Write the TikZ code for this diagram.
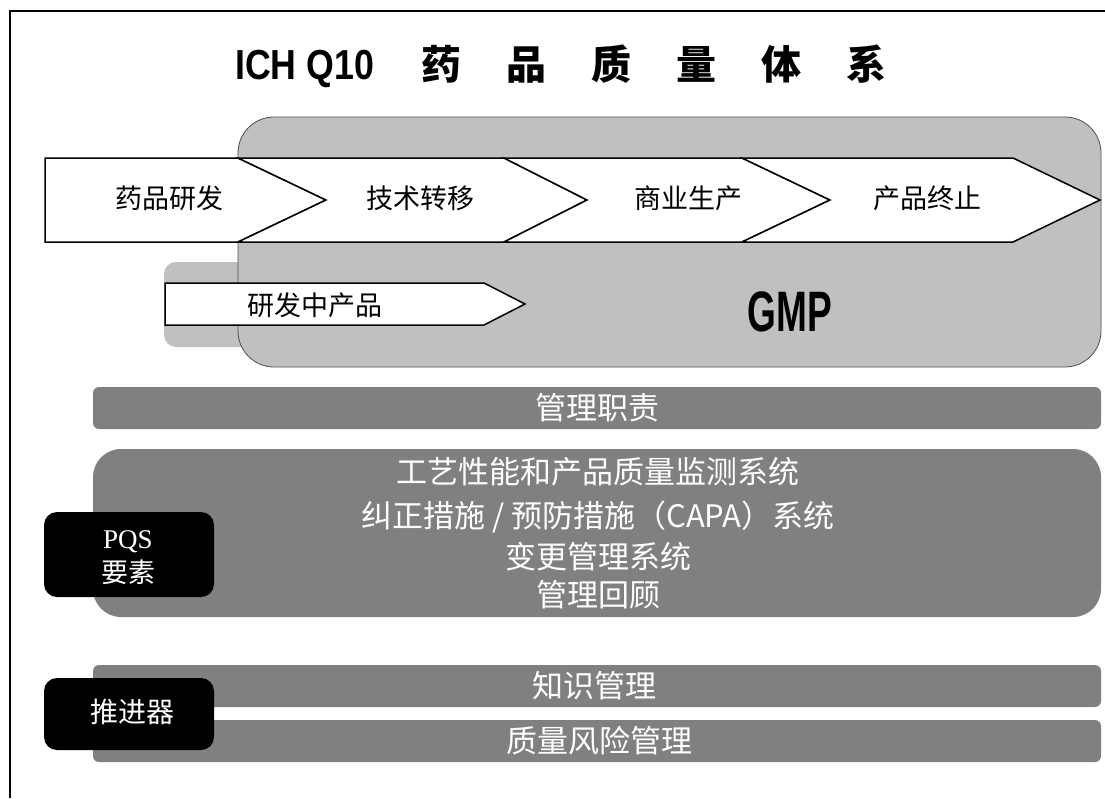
\documentclass[tikz,border=0pt]{standalone}
\usepackage{fontspec}
\usepackage{graphicx}
\setmainfont{Liberation Serif}
\newfontfamily\cjk{Noto Sans CJK SC}
\newfontfamily\lsans{Liberation Sans}
\definecolor{gmpgray}{HTML}{C0C0C0}
\definecolor{gmpborder}{HTML}{505050}
\definecolor{bargray}{HTML}{808080}
\tikzset{
  chevron/.style={draw=black, line width=1.5pt, fill=white, line join=miter},
  stagetxt/.style={inner sep=0, font=\cjk\fontsize{27}{27}\selectfont},
  bartxt/.style={inner sep=0, text=white, font=\cjk\fontsize{31}{31}\selectfont},
  blackbox/.style={fill=black, rounded corners=13pt},
  barbox/.style={fill=bargray, rounded corners=6pt},
}
\begin{document}
\begin{tikzpicture}[x=1pt,y=-1pt]
\useasboundingbox (0,0) rectangle (1105,798);
% frame
\draw[line width=2pt] (10,798) -- (10,11) -- (1105,11);
% title
\node[anchor=base west, inner sep=0] (title) at (235,79)
  {\scalebox{0.85}[1]{\lsans\bfseries\fontsize{42}{42}\selectfont ICH Q10}%
   \hspace{47pt}{\cjk\bfseries\fontsize{40}{40}\selectfont 药\hspace{45pt}品\hspace{45pt}质\hspace{45pt}量\hspace{45pt}体\hspace{45pt}系}};
% GMP area
\fill[gmpgray, rounded corners=12pt] (164,262) rectangle (300,347);
\draw[draw=gmpborder, line width=0.8pt, fill=gmpgray, rounded corners=36pt] (238,117) rectangle (1101,367);
% chevrons
\draw[chevron] (45,158) -- (238,158) -- (326,200) -- (238,242) -- (45,242) -- cycle;
\draw[chevron] (238,158) -- (504,158) -- (587,200) -- (504,242) -- (238,242) -- (326,200) -- cycle;
\draw[chevron] (504,158) -- (742,158) -- (830,200) -- (742,242) -- (504,242) -- (587,200) -- cycle;
\draw[chevron] (742,158) -- (1013,158) -- (1100,200) -- (1013,242) -- (742,242) -- (830,200) -- cycle;
\draw[chevron] (165,283) -- (484,283) -- (525,304) -- (484,325) -- (165,325) -- cycle;
\node[stagetxt] (s1) at (169,198) {药品研发};
\node[stagetxt] (s2) at (420,198) {技术转移};
\node[stagetxt] (s3) at (688,198) {商业生产};
\node[stagetxt] (s4) at (927,198) {产品终止};
\node[stagetxt] (s5) at (315,305) {研发中产品};
\node[inner sep=0] (gmp) at (790,312)
  {\scalebox{0.65}[1]{\lsans\bfseries\fontsize{57}{57}\selectfont GMP}};
% management responsibility
\fill[barbox] (93,387) rectangle (1101,429);
\node[bartxt] (mr) at (597,408) {管理职责};
% PQS elements
\fill[fill=bargray, rounded corners=28pt] (93,449) rectangle (1101,617);
\node[bartxt] (e1) at (598,472) {工艺性能和产品质量监测系统};
\node[bartxt] (e2) at (598,517) {纠正措施 / 预防措施（CAPA）系统};
\node[bartxt] (e3) at (598,557) {变更管理系统};
\node[bartxt] (e4) at (598,595) {管理回顾};
\fill[blackbox] (44,512) rectangle (214,597);
\node[anchor=base, inner sep=0, text=white, font=\fontsize{27}{27}\selectfont] (pqs) at (128,548) {PQS};
\node[anchor=base, inner sep=0, text=white, font=\cjk\fontsize{27}{27}\selectfont] (pqs2) at (128,582) {要素};
% enablers
\fill[barbox] (93,665) rectangle (1101,707);
\fill[barbox] (93,720) rectangle (1101,762);
\node[bartxt] (km) at (594,686) {知识管理};
\node[bartxt] (qrm) at (599,741) {质量风险管理};
\fill[blackbox] (44,678) rectangle (214,750);
\node[inner sep=0, text=white, font=\cjk\fontsize{28}{28}\selectfont] (en) at (132,712) {推进器};
\end{tikzpicture}
\end{document}
